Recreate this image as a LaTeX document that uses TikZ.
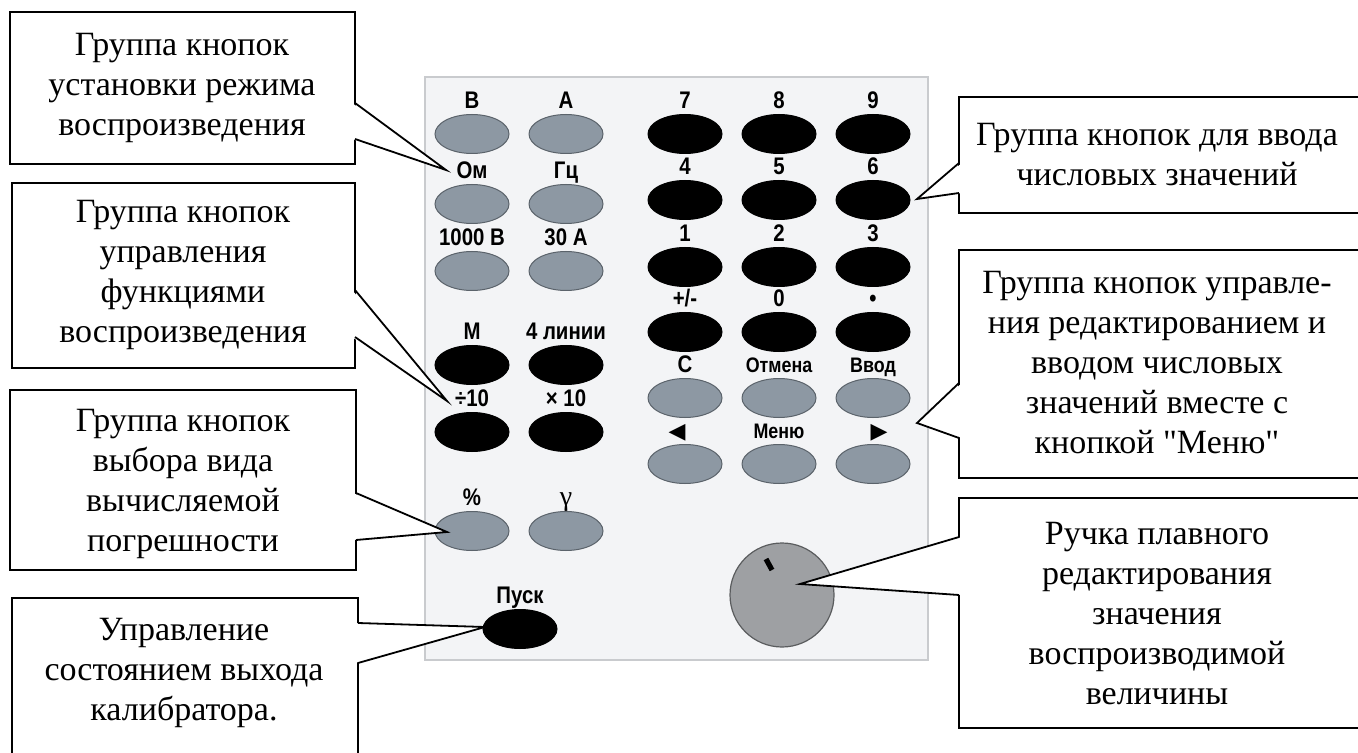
\documentclass[tikz,border=0pt]{standalone}
\usepackage{fontspec}
\setmainfont{Liberation Serif}[Ligatures=TeXOff]
\newfontfamily\keyfont[FakeStretch=0.85]{Liberation Sans}
\newfontfamily\symfont{DejaVu Sans}
\usetikzlibrary{shapes.geometric}

\definecolor{panelbg}{HTML}{F3F4F6}
\definecolor{panelline}{HTML}{C9CBCE}
\definecolor{keygray}{HTML}{8D98A3}
\definecolor{keyline}{HTML}{5B636B}
\definecolor{knobgray}{HTML}{9EA0A3}
\definecolor{knobline}{HTML}{5A5C5E}

\tikzset{
	graykey/.style={ellipse,fill=keygray,draw=keyline,line width=0.5pt,minimum width=37pt,minimum height=19.5pt,inner sep=0pt},
	blackkey/.style={graykey,fill=black,draw=black},
	keylbl/.style={font=\keyfont\bfseries\fontsize{12}{12}\selectfont,inner sep=0pt,text depth=0pt},
	smalllbl/.style={keylbl,font=\keyfont\bfseries\fontsize{10.5}{10.5}\selectfont},
	arrlbl/.style={keylbl,font=\symfont\fontsize{11}{11}\selectfont},
	note/.style={align=center,inner sep=0pt,font=\fontsize{17}{20}\selectfont},
	box/.style={fill=white,draw=black,line width=0.9pt},
	ptr/.style={draw=black,line width=0.9pt,line join=miter}
}

\begin{document}
\begin{tikzpicture}[x=0.5pt,y=-0.5pt,label distance=2.5pt]
	\clip (0,0) rectangle (1358,753);
	\fill[white] (0,0) rectangle (1358,753);

	% Draw panel
	\draw[fill=panelbg,draw=panelline,line width=0.6pt] (425,77) rectangle (928,660);

	% Mode keys
	\node[graykey,label={[keylbl]above:В}] (kV) at (472,134) {};
	\node[graykey,label={[keylbl]above:А}] (kA) at (566,134) {};
	\node[graykey,label={[keylbl]above:Ом}] (kOhm) at (472,204) {};
	\node[graykey,label={[keylbl]above:Гц}] (kHz) at (566,204) {};
	\node[graykey,label={[keylbl]above:1000 В}] (kHV) at (472,271) {};
	\node[graykey,label={[keylbl]above:30 А}] (kHA) at (566,271) {};

	% Function keys
	\node[blackkey,label={[keylbl]above:М}] (kM) at (472,365) {};
	\node[blackkey,label={[keylbl]above:4 линии}] (kLines) at (566,365) {};
	\node[blackkey,label={[keylbl]above:÷10}] (kDiv) at (472,432) {};
	\node[blackkey,label={[keylbl]above:× 10}] (kMul) at (566,432) {};

	% Error keys
	\node[graykey,label={[keylbl]above:\%}] (kPct) at (472,531) {};
	\node[graykey,label={[keylbl,font=\fontsize{14}{14}\selectfont]above:γ}] (kGam) at (566,531) {};

	% Output key
	\node[blackkey,label={[keylbl]above:Пуск}] (kRun) at (520,629) {};

	% Number keys
	\node[blackkey,label={[keylbl]above:7}] (k7) at (685,134) {};
	\node[blackkey,label={[keylbl]above:8}] (k8) at (779,134) {};
	\node[blackkey,label={[keylbl]above:9}] (k9) at (873,134) {};
	\node[blackkey,label={[keylbl]above:4}] (k4) at (685,200) {};
	\node[blackkey,label={[keylbl]above:5}] (k5) at (779,200) {};
	\node[blackkey,label={[keylbl]above:6}] (k6) at (873,200) {};
	\node[blackkey,label={[keylbl]above:1}] (k1) at (685,267) {};
	\node[blackkey,label={[keylbl]above:2}] (k2) at (779,267) {};
	\node[blackkey,label={[keylbl]above:3}] (k3) at (873,267) {};
	\node[blackkey,label={[keylbl]above:+/-}] (kSign) at (685,332) {};
	\node[blackkey,label={[keylbl]above:0}] (k0) at (779,332) {};
	\node[blackkey,label={[keylbl]above:•}] (kDot) at (873,332) {};

	% Edit keys
	\node[graykey,label={[keylbl]above:C}] (kClr) at (685,398) {};
	\node[graykey,label={[smalllbl]above:Отмена}] (kEsc) at (779,398) {};
	\node[graykey,label={[smalllbl]above:Ввод}] (kEnt) at (873,398) {};
	\node[graykey,label={[arrlbl,xshift=-4pt]above:◀}] (kLeft) at (685,464) {};
	\node[graykey,label={[smalllbl]above:Меню}] (kMenu) at (779,464) {};
	\node[graykey,label={[arrlbl,xshift=3pt]above:▶}] (kRight) at (873,464) {};

	% Knob
	\node[circle,fill=knobgray,draw=knobline,line width=0.6pt,minimum size=52pt,inner sep=0pt] (knob) at (782,595) {};
	\draw[line width=2.6pt] (766,559) -- (772,570);

	% Callout: mode keys
	\coordinate (tMode) at (446,170);
	\draw[box] (10,12) rectangle (355,164);
	\fill[white] (352,103) -- (tMode) -- (352,139) -- cycle;
	\draw[ptr] (355,103) -- (tMode) -- (355,139);
	\node[note] (nMode) at (182,88) {Группа кнопок\\установки режима\\воспроизведения};

	% Callout: function keys
	\coordinate (tFunc) at (447,401);
	\draw[box] (12,183) rectangle (355,368);
	\fill[white] (352,290) -- (tFunc) -- (352,337) -- cycle;
	\draw[ptr] (355,290) -- (tFunc) -- (355,337);
	\node[note] (nFunc) at (183,275) {Группа кнопок\\управления\\функциями\\воспроизведения};

	% Callout: error keys
	\coordinate (tErr) at (447,532);
	\draw[box] (10,390) rectangle (356,570);
	\fill[white] (353,493) -- (tErr) -- (353,540) -- cycle;
	\draw[ptr] (356,493) -- (tErr) -- (356,540);
	\node[note] (nErr) at (183,484) {Группа кнопок\\выбора вида\\вычисляемой\\погрешности};

	% Callout: output key
	\coordinate (tRun) at (485,627);
	\draw[box] (12,598) rectangle (358,790);
	\fill[white] (355,623) -- (tRun) -- (355,663) -- cycle;
	\draw[ptr] (358,623) -- (tRun) -- (358,663);
	\node[note] (nRun) at (184,673) {Управление\\состоянием выхода\\калибратора.};

	% Callout: number keys
	\coordinate (tNum) at (917,199);
	\draw[box] (959,97) rectangle (1370,213);
	\fill[white] (962,163) -- (tNum) -- (962,193) -- cycle;
	\draw[ptr] (959,163) -- (tNum) -- (959,193);
	\node[note] (nNum) at (1157,155) {Группа кнопок для ввода\\числовых значений};

	% Callout: edit keys
	\coordinate (tEdit) at (917,423);
	\draw[box] (959,250) rectangle (1370,478);
	\fill[white] (962,383) -- (tEdit) -- (962,438) -- cycle;
	\draw[ptr] (959,383) -- (tEdit) -- (959,438);
	\node[note] (nEdit) at (1157,363) {Группа кнопок управле-\\ния редактированием и\\вводом числовых\\значений вместе с\\кнопкой "Меню"};

	% Callout: knob
	\coordinate (tKnob) at (800,584);
	\draw[box] (959,498) rectangle (1370,728);
	\fill[white] (962,537) -- (tKnob) -- (962,595) -- cycle;
	\draw[ptr] (959,537) -- (tKnob) -- (959,595);
	\node[note] (nKnob) at (1157,614) {Ручка плавного\\редактирования\\значения\\воспроизводимой\\величины};
\end{tikzpicture}
\end{document}
